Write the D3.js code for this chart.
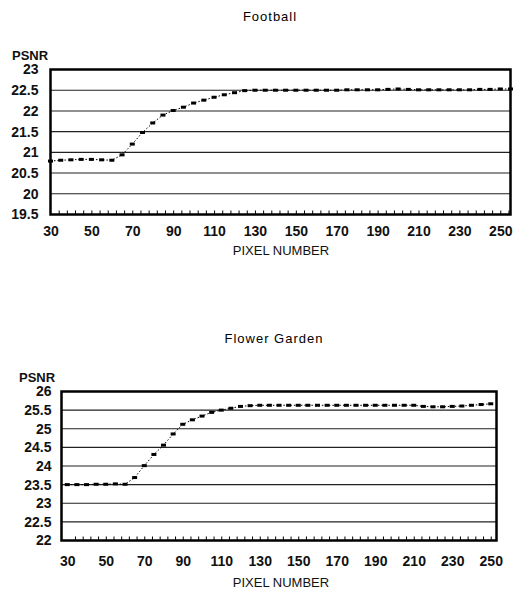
<!DOCTYPE html>
<html>
<head>
<meta charset="utf-8">
<script src="https://cdn.jsdelivr.net/npm/d3@7"></script>
<style>
  body { margin: 0; background: #fff; }
  svg { display: block; font-family: "Liberation Sans", Arial, sans-serif; }
</style>
</head>
<body>
<div id="chart"></div>
<script>
// pixel number (x) shared by both panels
const pixelNumbers = [30, 35, 40, 45, 50, 55, 60, 65, 70, 75, 80, 85, 90, 95, 100, 105, 110, 115, 120, 125,
  130, 135, 140, 145, 150, 155, 160, 165, 170, 175, 180, 185, 190, 195, 200, 205, 210, 215, 220, 225,
  230, 235, 240, 245, 250, 255];

const footballPsnr = [20.79, 20.81, 20.82, 20.83, 20.83, 20.82, 20.81, 20.94, 21.2, 21.48, 21.71, 21.9,
  22.01, 22.09, 22.19, 22.26, 22.33, 22.39, 22.44, 22.49, 22.5, 22.5, 22.5, 22.5, 22.5, 22.5, 22.5, 22.5,
  22.5, 22.51, 22.51, 22.51, 22.51, 22.52, 22.53, 22.52, 22.51, 22.51, 22.51, 22.51, 22.51, 22.51, 22.52,
  22.52, 22.53, 22.53];

const flowerPsnr = [23.5, 23.5, 23.5, 23.51, 23.51, 23.52, 23.51, 23.69, 24.01, 24.31, 24.56, 24.86,
  25.12, 25.24, 25.34, 25.44, 25.5, 25.55, 25.6, 25.62, 25.63, 25.63, 25.63, 25.63, 25.63, 25.63, 25.63,
  25.63, 25.63, 25.63, 25.63, 25.63, 25.63, 25.63, 25.63, 25.63, 25.63, 25.6, 25.59, 25.59, 25.6, 25.61,
  25.63, 25.65, 25.67];

const xTickLabels = [30, 50, 70, 90, 110, 130, 150, 170, 190, 210, 230, 250];
const footballYTicks = [19.5, 20, 20.5, 21, 21.5, 22, 22.5, 23];
const flowerYTicks = [22, 22.5, 23, 23.5, 24, 24.5, 25, 25.5, 26];

const width = 516, height = 589;
const svg = d3.select("#chart").append("svg")
  .attr("width", width)
  .attr("height", height);

const panels = [
  { title: "Football", values: footballPsnr, yTicks: footballYTicks,
    xDomain: [30, 255], box: { x0: 50.5, x1: 510.5, y0: 69.5, y1: 214.5 },
    titleX: 270, titleY: 21, psnrX: 12, psnrY: 60, xPad: 12, yPad: 12, labelY: 255 },
  { title: "Flower Garden", values: flowerPsnr, yTicks: flowerYTicks,
    xDomain: [27, 253], box: { x0: 61.5, x1: 496.5, y0: 391.5, y1: 540.5 },
    titleX: 274, titleY: 343, psnrX: 19, psnrY: 382, xPad: 16, yPad: 10, labelY: 587 }
];

panels.forEach(p => {
  const b = p.box;
  const x = d3.scaleLinear().domain(p.xDomain).range([b.x0, b.x1]);
  const y = d3.scaleLinear().domain(d3.extent(p.yTicks)).range([b.y1, b.y0]);
  const g = svg.append("g");

  g.append("text")
    .attr("x", p.titleX).attr("y", p.titleY)
    .attr("text-anchor", "middle")
    .style("font-size", "13px").style("letter-spacing", "1px")
    .text(p.title);

  // horizontal grid
  g.append("g")
    .selectAll("line")
    .data(p.yTicks.slice(1, -1))
    .join("line")
    .attr("x1", b.x0).attr("x2", b.x1)
    .attr("y1", d => y(d)).attr("y2", d => y(d))
    .attr("stroke", "#222").attr("stroke-width", 1.1);

  // minor ticks along bottom edge
  g.append("g")
    .attr("transform", `translate(0,${b.y1})`)
    .call(d3.axisBottom(x).tickValues(d3.range(34, p.xDomain[1], 4)).tickSize(-4).tickFormat(""))
    .call(a => a.select(".domain").remove())
    .selectAll("line").attr("stroke", "#000").attr("stroke-width", 1);

  // x labels
  g.append("g")
    .attr("transform", `translate(0,${b.y1})`)
    .call(d3.axisBottom(x).tickValues(xTickLabels).tickSize(0).tickPadding(p.xPad))
    .call(a => a.select(".domain").remove())
    .selectAll("text").style("font-size", "14px").style("font-weight", "bold").attr("fill", "#111");

  // y labels
  g.append("g")
    .attr("transform", `translate(${b.x0},0)`)
    .call(d3.axisLeft(y).tickValues(p.yTicks).tickSize(0).tickPadding(p.yPad).tickFormat(d => String(d)))
    .call(a => a.select(".domain").remove())
    .selectAll("text").style("font-size", "14px").style("font-weight", "bold").attr("fill", "#111");

  // frame
  g.append("rect")
    .attr("x", b.x0).attr("y", b.y0)
    .attr("width", b.x1 - b.x0).attr("height", b.y1 - b.y0)
    .attr("fill", "none").attr("stroke", "#000").attr("stroke-width", 2.5);

  const pts = p.values.map((v, i) => [pixelNumbers[i], v]);

  g.append("path")
    .datum(pts)
    .attr("fill", "none")
    .attr("stroke", "#000")
    .attr("stroke-width", 1)
    .attr("stroke-dasharray", "1.5,2")
    .attr("d", d3.line().x(d => x(d[0])).y(d => y(d[1])));

  g.append("g")
    .selectAll("rect")
    .data(pts)
    .join("rect")
    .attr("x", d => x(d[0]) - 2.5)
    .attr("y", d => y(d[1]) - 1.5)
    .attr("width", 5).attr("height", 3)
    .attr("fill", "#000");

  g.append("text")
    .attr("x", p.psnrX).attr("y", p.psnrY)
    .style("font-size", "13px").style("font-weight", "bold").attr("fill", "#111")
    .text("PSNR");

  g.append("text")
    .attr("x", 281).attr("y", p.labelY)
    .attr("text-anchor", "middle")
    .style("font-size", "13px").attr("fill", "#111")
    .text("PIXEL NUMBER");
});
</script>
</body>
</html>
